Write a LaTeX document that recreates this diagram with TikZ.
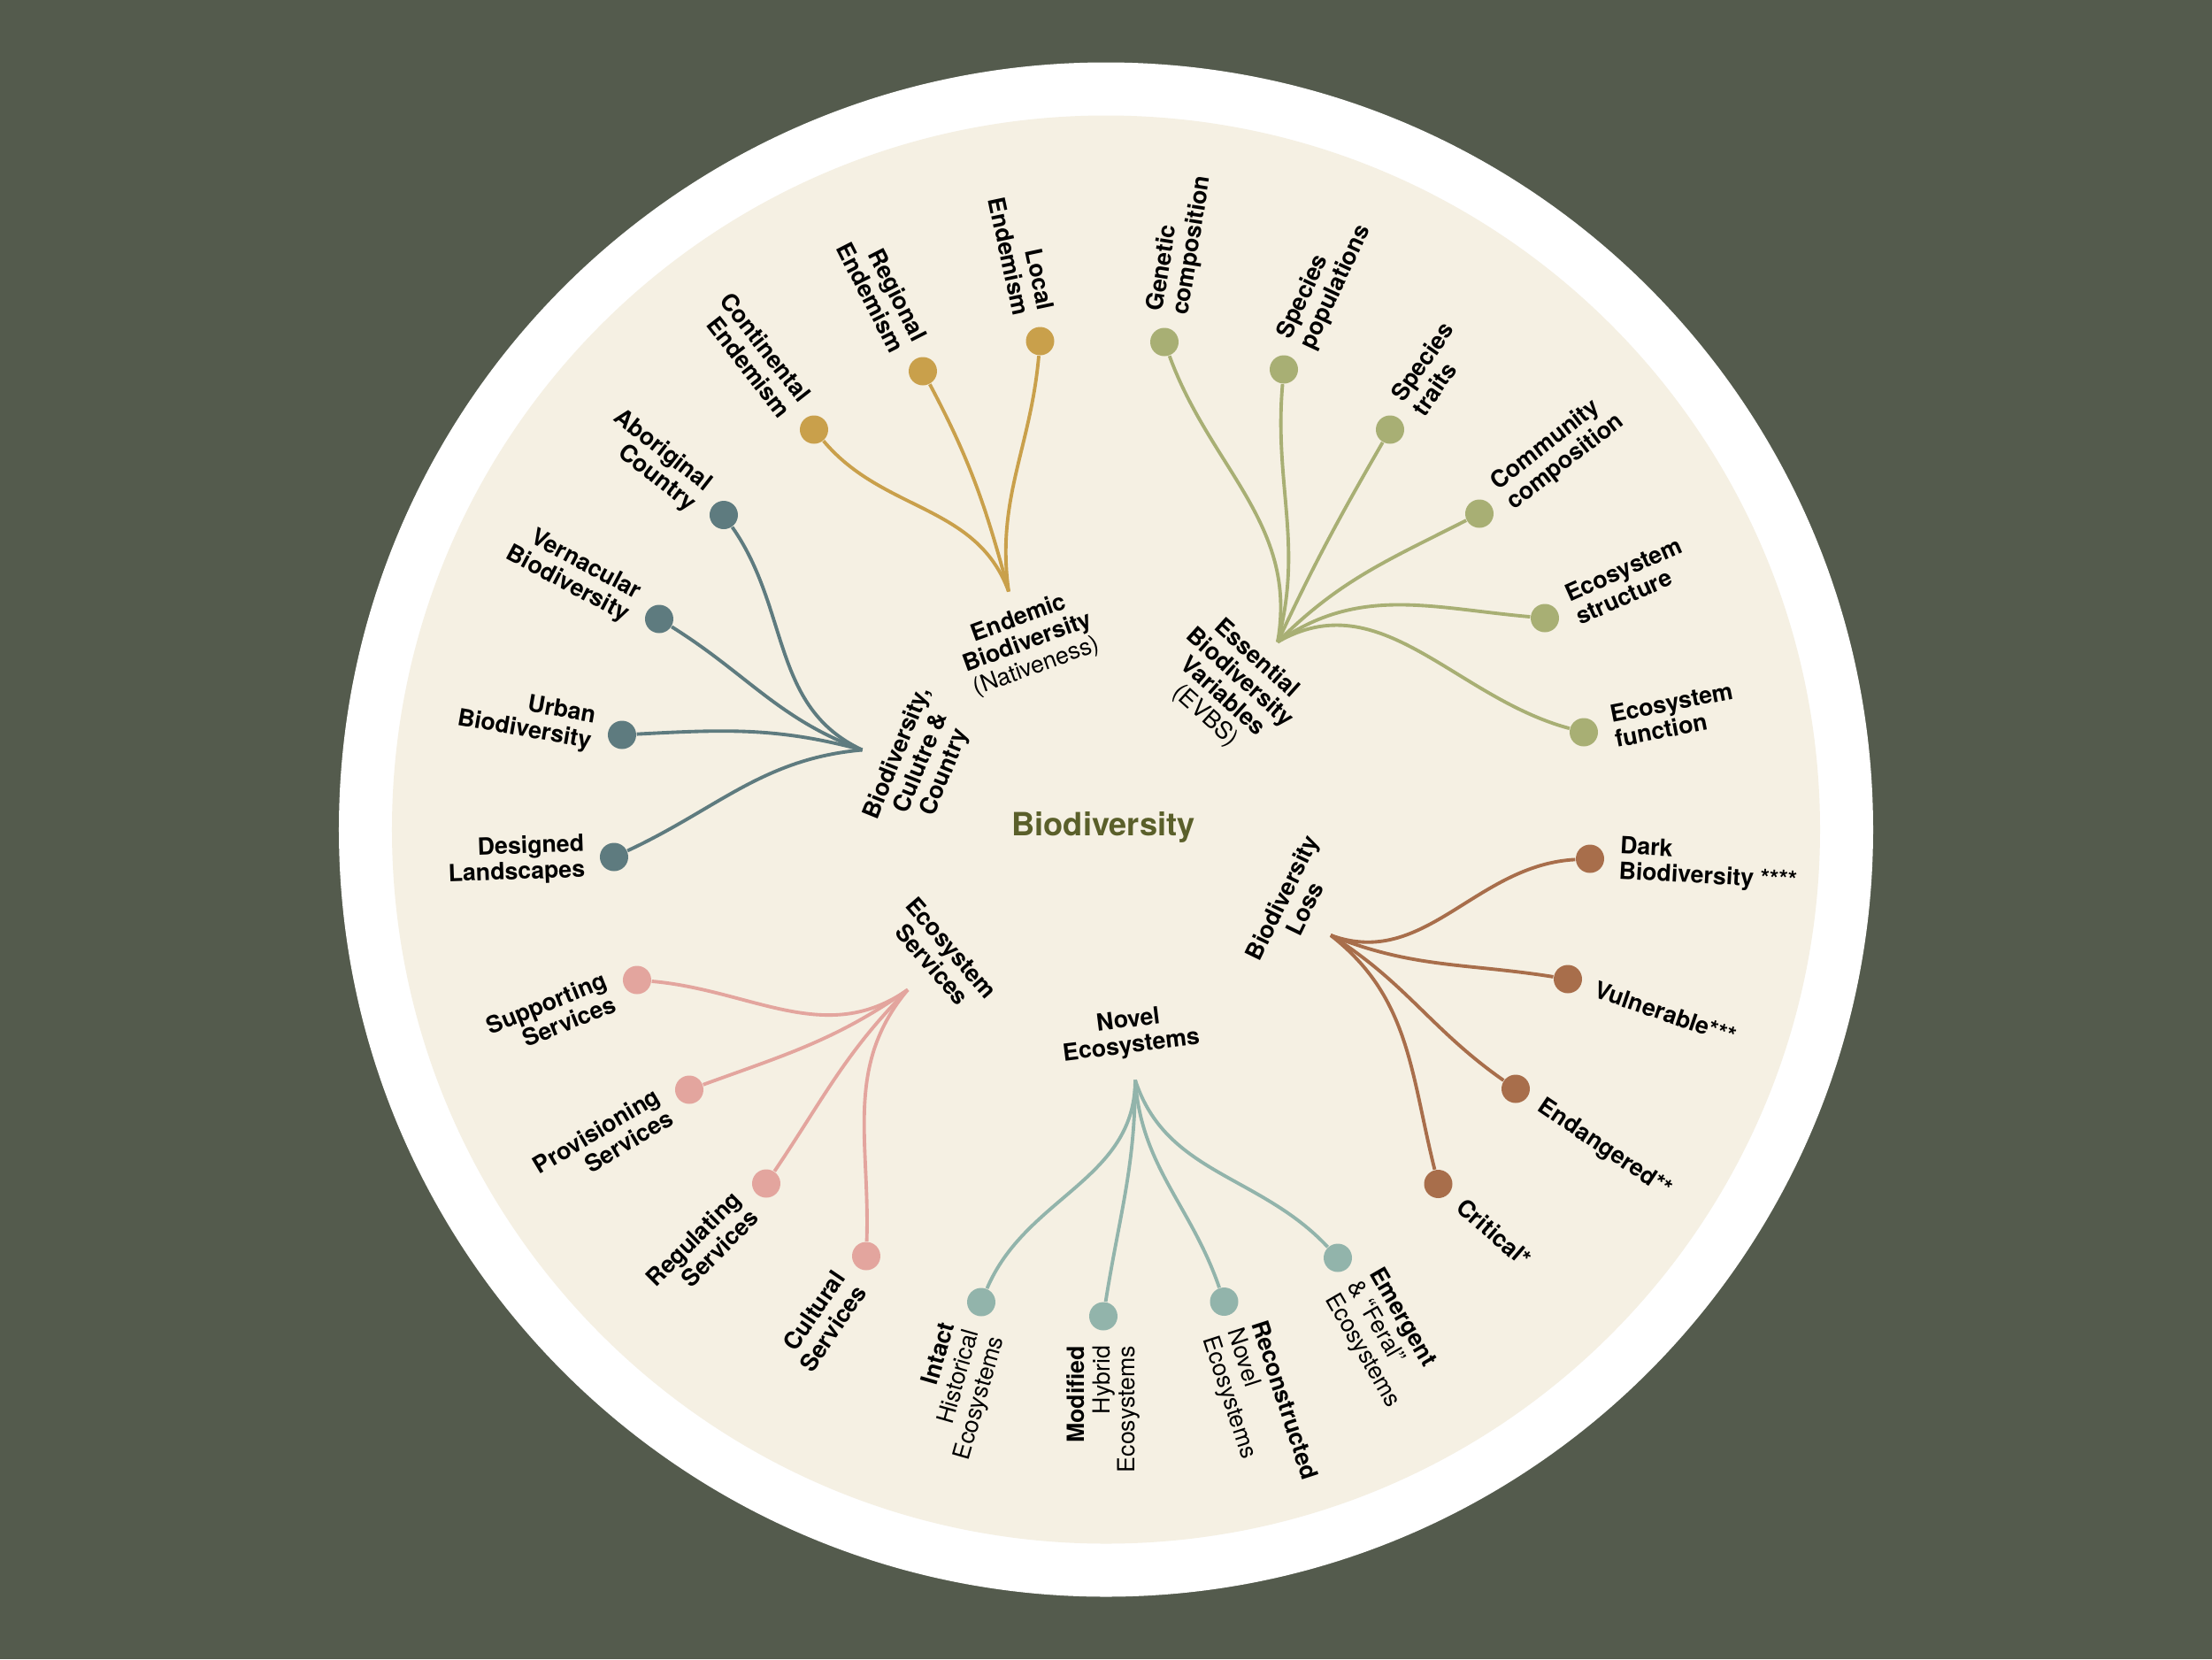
\documentclass[tikz,border=0pt]{standalone}
\usepackage{fontspec}
\setmainfont{TeX Gyre Heros}
\definecolor{bgcol}{HTML}{545B4D}
\definecolor{paper}{HTML}{F5F0E3}
\definecolor{gold}{HTML}{C9A04B}
\definecolor{olivegr}{HTML}{A8AF74}
\definecolor{slate}{HTML}{5E7B7F}
\definecolor{rust}{HTML}{A86E4B}
\definecolor{sage}{HTML}{92B4AB}
\definecolor{rose}{HTML}{E3A59E}
\definecolor{moss}{HTML}{5A5F2A}
\tikzset{%
    leaf/.style={circle,inner sep=0pt,minimum size=3.2mm},
    lbl/.style={font=\fontsize{7.6}{8.2}\selectfont\bfseries,inner sep=1.6mm},
    lblout/.style={lbl,anchor=west,align=left},
    lblin/.style={lbl,anchor=east,align=right},
    hublbl/.style={font=\fontsize{7.6}{8.2}\selectfont\bfseries,align=center,inner sep=0pt},
    branch/.style={line width=1.1pt}
}

\begin{document}
\begin{tikzpicture}
    \fill[bgcol] (-12.5,-9.375) rectangle (12.5,9.375);
    \fill[white] (0,0) circle (8.67);
    \fill[paper] (0,0) circle (8.07);

    \node[font=\fontsize{10.3}{12}\selectfont\bfseries,text=moss] (bio) at (-0.03,0.03) {Biodiversity};

    % Endemic Biodiversity
    \coordinate (hEnd) at (-1.10,2.69);
    \node[leaf,fill=gold] (cont) at (-3.30,4.52){};
    \node[leaf,fill=gold] (regi) at (-2.07,5.18){};
    \node[leaf,fill=gold] (loca) at (-0.745,5.52){};
    \draw[branch,gold] (hEnd) to[out=110,in=-50] (cont);
    \draw[branch,gold] (hEnd) to[out=105,in=-62] (regi);
    \draw[branch,gold] (hEnd) to[out=98,in=-95] (loca);
    \node[hublbl,rotate=20] (tEnd) at (-0.883,2.11) {Endemic\\Biodiversity\\\textmd{(Nativeness)}};
    \node[lblin,rotate=-52] (tCont) at (cont.128) {Continental\\Endemism};
    \node[lblin,rotate=-63] (tRegi) at (regi.117) {Regional\\Endemism};
    \node[lblin,rotate=-78] (tLoca) at (loca.102) {Local\\Endemism};

    % Essential Biodiversity Variables
    \coordinate (hEbv) at (1.94,2.12);
    \node[leaf,fill=olivegr] (gene) at (0.66,5.51){};
    \node[leaf,fill=olivegr] (spop) at (2.01,5.20){};
    \node[leaf,fill=olivegr] (strt) at (3.21,4.52){};
    \node[leaf,fill=olivegr] (comm) at (4.22,3.57){};
    \node[leaf,fill=olivegr] (estr) at (4.96,2.39){};
    \node[leaf,fill=olivegr] (efun) at (5.40,1.10){};
    \draw[branch,olivegr] (hEbv) to[out=80,in=-70] (gene);
    \draw[branch,olivegr] (hEbv) to[out=75,in=-95] (spop);
    \draw[branch,olivegr] (hEbv) to[out=65,in=-120] (strt);
    \draw[branch,olivegr] (hEbv) to[out=45,in=-153] (comm);
    \draw[branch,olivegr] (hEbv) to[out=35,in=175] (estr);
    \draw[branch,olivegr] (hEbv) to[out=30,in=165] (efun);
    \node[hublbl,rotate=-42] (tEbv) at (1.41,1.607) {Essential\\Biodiversity\\Variables\\\textmd{(EVBS)}};
    \node[lblout,rotate=81] (tGene) at (gene.81) {Genetic\\composition};
    \node[lblout,rotate=65] (tSpop) at (spop.65) {Species\\populations};
    \node[lblout,rotate=55] (tStrt) at (strt.55) {Species\\traits};
    \node[lblout,rotate=38] (tComm) at (comm.38) {Community\\composition};
    \node[lblout,rotate=24] (tEstr) at (estr.24) {Ecosystem\\structure};
    \node[lblout,rotate=11] (tEfun) at (efun.11) {Ecosystem\\function};

    % Biodiversity, Culture & Country
    \coordinate (hCul) at (-2.755,0.90);
    \node[leaf,fill=slate] (abor) at (-4.32,3.555){};
    \node[leaf,fill=slate] (vern) at (-5.05,2.38){};
    \node[leaf,fill=slate] (urba) at (-5.47,1.07){};
    \node[leaf,fill=slate] (desi) at (-5.56,-0.31){};
    \draw[branch,slate] (hCul) to[out=155,in=-55] (abor);
    \draw[branch,slate] (hCul) to[out=160,in=-32] (vern);
    \draw[branch,slate] (hCul) to[out=165,in=3] (urba);
    \draw[branch,slate] (hCul) to[out=185,in=25] (desi);
    \node[hublbl,rotate=68] (tCul) at (-2.083,0.752) {Biodiversity,\\Culutre \&\\Country};
    \node[lblin,rotate=-38] (tAbor) at (abor.142) {Aboriginal\\Country};
    \node[lblin,rotate=-28] (tVern) at (vern.152) {Vernacular\\Biodiversity};
    \node[lblin,rotate=-10] (tUrba) at (urba.170) {Urban\\Biodiversity};
    \node[lblin,rotate=2] (tDesi) at (desi.182) {Designed\\Landscapes};

    % Ecosystem Services
    \coordinate (hSer) at (-2.24,-1.81);
    \node[leaf,fill=rose] (supp) at (-5.30,-1.70){};
    \node[leaf,fill=rose] (prov) at (-4.71,-2.94){};
    \node[leaf,fill=rose] (regu) at (-3.84,-4.00){};
    \node[leaf,fill=rose] (cult) at (-2.71,-4.82){};
    \draw[branch,rose] (hSer) to[out=215,in=-5] (supp);
    \draw[branch,rose] (hSer) to[out=215,in=20] (prov);
    \draw[branch,rose] (hSer) to[out=225,in=56] (regu);
    \draw[branch,rose] (hSer) to[out=230,in=88] (cult);
    \node[hublbl,rotate=-49] (tSer) at (-1.855,-1.43) {Ecosystem\\Services};
    \node[lblin,rotate=22] (tSupp) at (supp.202) {Supporting\\Services};
    \node[lblin,rotate=31] (tProv) at (prov.211) {Provisioning\\Services};
    \node[lblin,rotate=45] (tRegu) at (regu.225) {Regulating\\Services};
    \node[lblin,rotate=56] (tCult) at (cult.236) {Cultural\\Services};

    % Novel Ecosystems
    \coordinate (hNov) at (0.33,-2.83);
    \node[leaf,fill=sage] (inta) at (-1.41,-5.34){};
    \node[leaf,fill=sage] (modi) at (-0.03,-5.50){};
    \node[leaf,fill=sage] (reco) at (1.335,-5.335){};
    \node[leaf,fill=sage] (emer) at (2.62,-4.84){};
    \draw[branch,sage] (hNov) to[out=-90,in=67] (inta);
    \draw[branch,sage] (hNov) to[out=-90,in=81] (modi);
    \draw[branch,sage] (hNov) to[out=-86,in=109] (reco);
    \draw[branch,sage] (hNov) to[out=-72,in=133] (emer);
    \node[hublbl,rotate=7] (tNov) at (0.27,-2.31) {Novel\\Ecosystems};
    \node[lblin,rotate=74] (tInta) at (inta.254) {Intact\\\textmd{Historical}\\\textmd{Ecosystems}};
    \node[lblin,rotate=90] (tModi) at (modi.270) {Modified\\\textmd{Hybrid}\\\textmd{Ecosystems}};
    \node[lblout,rotate=-72] (tReco) at (reco.-72) {Reconstructed\\\textmd{Novel}\\\textmd{Ecosystems}};
    \node[lblout,rotate=-60] (tEmer) at (emer.-60) {Emergent\\\textmd{\& ``Feral''}\\\textmd{Ecosystems}};

    % Biodiversity Loss
    \coordinate (hLoss) at (2.54,-1.195);
    \node[leaf,fill=rust] (crit) at (3.755,-4.005){};
    \node[leaf,fill=rust] (enda) at (4.63,-2.93){};
    \node[leaf,fill=rust] (vuln) at (5.22,-1.69){};
    \node[leaf,fill=rust] (dark) at (5.47,-0.33){};
    \draw[branch,rust] (hLoss) to[out=-38,in=104] (crit);
    \draw[branch,rust] (hLoss) to[out=-32,in=145] (enda);
    \draw[branch,rust] (hLoss) to[out=-22,in=171] (vuln);
    \draw[branch,rust] (hLoss) to[out=-20,in=183] (dark);
    \node[hublbl,rotate=64] (tLoss) at (2.115,-0.83) {Biodiversity\\Loss};
    \node[lblout,rotate=-41] (tCrit) at (crit.-41) {Critical*};
    \node[lblout,rotate=-34] (tEnda) at (enda.-34) {Endangered**};
    \node[lblout,rotate=-19] (tVuln) at (vuln.-19) {Vulnerable***};
    \node[lblout,rotate=-3] (tDark) at (dark.-3) {Dark\\Biodiversity ****};
\end{tikzpicture}
\end{document}
